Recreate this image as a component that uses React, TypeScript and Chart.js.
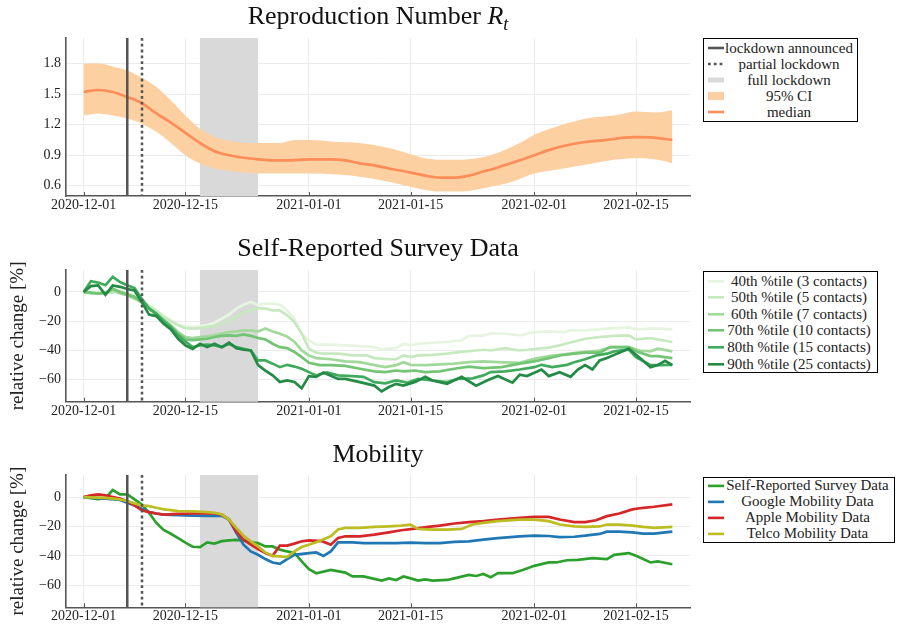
import React, { useEffect, useRef } from "react";
import { Chart, registerables } from "chart.js";

Chart.register(...registerables);

const FONT = "'Liberation Serif', 'Times New Roman', serif";

// ---------- axes ----------
const X_TICK_DAYS = [0, 14, 31, 45, 62, 76];
const X_TICK_LABELS = ["2020-12-01", "2020-12-15", "2021-01-01", "2021-01-15", "2021-02-01", "2021-02-15"];
const X_MIN = -2.43;
const X_MAX = 83.43;
const RT_TICKS = [0.6, 0.9, 1.2, 1.5, 1.8];
const PCT_TICKS = [-60, -40, -20, 0];

// ---------- events (day index, 0 = 2020-12-01) ----------
const LOCKDOWN_ANNOUNCED_DAY = 6;
const PARTIAL_LOCKDOWN_DAY = 8;
const FULL_LOCKDOWN_START = 16;
const FULL_LOCKDOWN_END = 24;

type Pt = [number, number];

// ---------- Reproduction number ----------
const RT_MEDIAN: Pt[] = [
  [0, 1.52], [2, 1.54], [4, 1.52], [6, 1.47], [8, 1.41], [10, 1.31], [12, 1.22], [14, 1.12], [16, 1.02],
  [18, 0.94], [20, 0.9], [22, 0.875], [24, 0.86], [26, 0.85], [28, 0.85], [31, 0.86], [34, 0.86], [36, 0.85],
  [38, 0.82], [40, 0.8], [42, 0.77], [45, 0.73], [47, 0.7], [49, 0.68], [51, 0.68], [53, 0.7], [55, 0.74],
  [57, 0.78], [60, 0.85], [62, 0.9], [64, 0.95], [66, 0.99], [69, 1.03], [72, 1.05], [74, 1.07], [76, 1.077],
  [78, 1.075], [81, 1.05],
];
const RT_UPPER: Pt[] = [
  [0, 1.8], [2, 1.8], [4, 1.77], [6, 1.73], [8, 1.66], [10, 1.57], [12, 1.44], [14, 1.29], [16, 1.16],
  [18, 1.08], [21, 1.03], [24, 1.02], [27, 1.02], [29, 1.05], [31, 1.05], [35, 1.03], [38, 1.02], [42, 0.97],
  [45, 0.91], [47, 0.87], [49, 0.855], [51, 0.855], [53, 0.86], [56, 0.9], [60, 1.02], [62, 1.1], [65, 1.18],
  [68, 1.24], [70, 1.27], [73, 1.29], [76, 1.33], [79, 1.32], [81, 1.34],
];
const RT_LOWER: Pt[] = [
  [0, 1.29], [2, 1.31], [4, 1.29], [6, 1.26], [8, 1.21], [10, 1.13], [12, 1.02], [14, 0.9], [16, 0.82],
  [18, 0.77], [21, 0.74], [24, 0.72], [27, 0.72], [31, 0.72], [35, 0.71], [38, 0.69], [42, 0.64], [45, 0.59],
  [47, 0.56], [49, 0.545], [51, 0.545], [53, 0.55], [56, 0.59], [59, 0.64], [62, 0.72], [66, 0.77], [70, 0.82],
  [73, 0.855], [76, 0.87], [79, 0.855], [81, 0.82],
];

// ---------- Self-reported survey percentiles (relative change %) ----------
const P40: Pt[] = [
  [0, 0], [1, 0], [2, 0], [3, 0], [4, 0], [5, 1], [6, -0.5], [7, -2.3], [8, -5.7], [9, -9.1], [10, -12.6],
  [11, -16], [12, -19.4], [13, -22.4], [14, -23.3], [15, -24], [16, -23.3], [17, -22.4], [18, -21], [19, -18.3],
  [20, -15.5], [21, -11.4], [22, -8.7], [23, -6.8], [24, -9], [25, -8], [26, -8], [27, -8.7], [28, -12.6],
  [29, -18.3], [30, -28.5], [31, -33], [32, -36], [34, -36], [36, -36.5], [38, -37], [40, -37.7], [41, -39.3],
  [43, -38.4], [44, -35.4], [45, -36.5], [46, -35.4], [48, -34.7], [50, -34.2], [52, -33], [53, -30],
  [55, -29.7], [56, -28.5], [58, -28.5], [60, -29.7], [62, -27.4], [64, -27], [66, -27.4], [67, -26.3],
  [69, -26.3], [71, -25.6], [72, -25], [75, -24.2], [76, -25.6], [78, -25], [79, -25], [81, -25.6],
];
const P50: Pt[] = [
  [0, 0], [1, -0.5], [2, -0.5], [3, -0.5], [4, -0.5], [5, 0.5], [6, -1.1], [7, -2.7], [8, -6.4], [9, -9.6],
  [10, -13], [11, -17], [12, -20], [13, -22.8], [14, -24.7], [15, -25], [16, -24.7], [17, -24], [18, -23.3],
  [19, -21.7], [20, -20], [21, -17], [22, -14.2], [23, -12.6], [24, -11], [25, -11.4], [26, -12.6], [27, -12.6],
  [28, -16], [29, -20.5], [30, -28.5], [31, -38.8], [32, -41.5], [33, -42.2], [35, -42.2], [37, -43.4],
  [39, -43.4], [40, -45.2], [42, -46], [43, -46], [44, -43.4], [45, -44.5], [46, -43.4], [48, -43], [50, -42.2],
  [52, -41], [54, -40], [55, -39.5], [56, -40], [58, -38.4], [60, -40], [62, -39], [64, -38], [65.5, -36.5],
  [67, -34.5], [69, -32], [71, -30.8], [73, -30], [75, -29.7], [76, -32.4], [78, -31.5], [79, -32.4], [81, -34.2],
];
const P60: Pt[] = [
  [0, 0], [1, -1], [2, -1], [3, -1], [4, 1.1], [5, -1], [6, -2.3], [7, -4.6], [8, -7.3], [9, -11], [10, -14.8],
  [11, -18.7], [12, -22.8], [13, -27.4], [14, -30.8], [15, -31.5], [16, -30.8], [17, -30.4], [18, -29.7],
  [19, -28.5], [20, -27.4], [21, -27], [22, -26.3], [23, -26.3], [24, -27], [25, -25], [26, -27], [27, -28.5],
  [28, -30.5], [29, -34], [30, -40], [31, -43.4], [32, -45.2], [34, -46], [36, -47.5], [38, -48], [40, -50],
  [41.5, -51.4], [43, -50], [44, -48], [45, -49.8], [47, -50], [49, -49.5], [51, -49], [53, -48], [55, -47.5],
  [57, -48], [60, -48.5], [62, -45.7], [64, -43.8], [65.5, -43], [67.5, -41.8], [69, -41], [71, -40],
  [72.5, -37.7], [75, -37.7], [76.5, -40], [78, -40.6], [79, -38.8], [81, -40.6],
];
const P70: Pt[] = [
  [0, 0], [1, -0.5], [2, -1.1], [3, -0.5], [4, 2.3], [5, 0], [6, -1.8], [7, -3.4], [8, -6.8], [9, -11.4],
  [10, -15.5], [11, -19.4], [12, -24], [13, -28.5], [14, -32.4], [15, -33], [16, -32.4], [17, -32], [18, -30.8],
  [19, -30], [20, -29.7], [21, -30], [22, -29], [23, -30], [24, -31.5], [25, -32.4], [26, -35.4], [27, -37.7],
  [28, -38.4], [29, -41], [30, -44.5], [31, -48.4], [32.5, -50], [34, -50], [36, -50.5], [38, -52.5],
  [40, -54.3], [41.5, -54.8], [43, -53.7], [44, -54.3], [45.5, -53.7], [47, -54.8], [49, -54.3], [51, -52.5],
  [53, -51], [55, -52], [57.5, -51.4], [60, -49], [62, -47.5], [64, -45.2], [65.5, -43.4], [67.5, -42.2],
  [69, -41.5], [71, -41.5], [72.5, -37.7], [75, -37.7], [76, -40.6], [78, -43.8], [79, -43.8], [81, -45.2],
];
const P80: Pt[] = [
  [0, 0], [1, 7.3], [2, 6.4], [3, 4.6], [4, 10.3], [5, 6.8], [6, 4.6], [7, 2.7], [8, -4.6], [9, -11.4],
  [10, -14.8], [11, -20], [12, -24], [13, -29.7], [14, -34], [15, -37.7], [16, -36.5], [17, -36], [18, -36.5],
  [19, -37.7], [20, -35.4], [21, -37.7], [22, -38.8], [23, -40], [24, -46.8], [25, -46.8], [26, -49],
  [27, -51.4], [28, -49.8], [29, -51], [30, -52.5], [31, -54.8], [32, -57], [33.5, -55], [35, -57], [37, -57.5],
  [38.5, -58], [40, -61.6], [41.5, -62.5], [43, -60.5], [44.5, -62], [46, -59.4], [48, -60.5], [50, -61.6],
  [51.5, -59.4], [53.5, -59], [55, -57], [56, -54.8], [58, -54.3], [60, -53], [62, -51.4], [63, -49.8],
  [64.5, -51.4], [66.5, -49.8], [67.5, -48], [69, -46], [70.5, -43.4], [72, -42.2], [73, -40.6], [75, -39.3],
  [76, -44.5], [78, -50], [79, -50], [81, -49.8],
];
const P90: Pt[] = [
  [0, 0], [1, 4], [2, 4.5], [3, -2], [4, 4.5], [5, 3.5], [6, 2], [7, 1], [8, -7], [9, -15.5], [10, -16.5],
  [11, -21.7], [12, -25.6], [13, -32], [14, -36.5], [15, -39], [16, -35.4], [17, -37.7], [18, -35.4], [19, -37.7],
  [20, -34.7], [21, -38.4], [22, -39.5], [23, -40], [24, -50], [25, -53.7], [26, -57], [27, -61.6], [28, -60.5],
  [29, -61.5], [30, -65.8], [31, -57.5], [32, -58], [33, -55], [35, -59.4], [36, -59.4], [38, -61.6], [40, -64],
  [41, -68], [42, -65], [43, -62.8], [44, -64], [45.6, -61.6], [47, -58], [48, -60.5], [50, -62.8], [52, -58],
  [54, -64], [55.5, -60.5], [57, -57.5], [59, -62], [60, -56.6], [61, -57.5], [63, -53], [64, -57.5],
  [65.5, -54.8], [67, -58], [68, -53], [69, -50], [70, -53], [71, -46.8], [72, -45.2], [73, -43], [75, -38.8],
  [76.5, -45], [78, -51.4], [79, -50], [80, -47], [81, -50],
];

// ---------- Mobility (relative change %) ----------
const SURVEY: Pt[] = [
  [0, 0], [1, -0.7], [2, -1.4], [3, -0.7], [4, 4.8], [5, 1.8], [6, 1.8], [7, -1.6], [8, -5], [9, -10.7],
  [10, -17.6], [11, -22.4], [12, -25], [13, -28], [14, -31], [15, -33.8], [16, -34], [17, -30.8], [18, -31.7],
  [19, -30], [20, -29.5], [21, -29.2], [22, -29.5], [23, -30.8], [24, -31.3], [25, -33.6], [26, -33.6],
  [27, -35.8], [28, -37], [29, -38], [30, -43.8], [31, -49], [32, -51.8], [34, -49.5], [36, -51.4], [37, -54],
  [38.5, -54], [41, -56.8], [42, -55.3], [43, -56.4], [44, -54], [45, -55.3], [46, -56.8], [47, -56], [48, -56.8],
  [50, -56.4], [51, -55.3], [53, -53], [54, -53.7], [55, -52.3], [56, -54.6], [57, -51.8], [59, -51.8],
  [60.5, -49.5], [62, -46.8], [64, -44.5], [65, -44.5], [66.5, -43], [68, -42.7], [70, -41.5], [72, -42.2],
  [73, -39.3], [75, -38.1], [76, -40], [78, -44.5], [79, -43.8], [81, -45.7],
];
const GOOGLE: Pt[] = [
  [0, 0], [3, -1.1], [5, -2], [6, -3.9], [7, -5.7], [8, -8], [9, -10.3], [10, -11.2], [11, -11.9], [13, -12.3],
  [15, -12.6], [17, -12.8], [19, -12.8], [20, -15.3], [21, -24.4], [22, -32.4], [23, -37], [24, -39.3],
  [25, -42.2], [26, -44.5], [27, -45.4], [28, -42.2], [29, -39.3], [31, -38.1], [32, -37.7], [33, -40], [34, -37],
  [35, -30.8], [37, -30.8], [38.5, -31.3], [41, -31.3], [43, -31.3], [45, -31], [47, -31.3], [49, -31.3],
  [51, -30.5], [53, -30.1], [55, -29], [57, -27.9], [60, -26.7], [62, -26.3], [64, -26.5], [65.5, -27.2],
  [67.5, -27], [69, -26.3], [71, -25.1], [72, -23.5], [73.7, -23.5], [75.5, -24], [77, -24.9], [78.5, -24.9],
  [81, -23.5],
];
const APPLE: Pt[] = [
  [0, 0], [1, 1.1], [2, 1.8], [3, 1.1], [4, 0], [5, -1.1], [6, -2.7], [7, -5.7], [8, -8.9], [9, -10.3],
  [10, -11.2], [11, -11.9], [13, -11.5], [15, -11.2], [18, -11.2], [19, -11.9], [20, -15.3], [21, -23.3],
  [22, -29], [23, -32.4], [24, -35.4], [25, -38.1], [26, -40], [27, -33], [28, -33], [29, -31.7], [30, -30.1],
  [31, -29.5], [32.8, -30], [34, -32.4], [35, -27.9], [36, -26.7], [38, -26.7], [40, -25.6], [42, -24],
  [43.7, -22.6], [45.6, -21.5], [47.4, -20.3], [49, -19.4], [51, -18], [53, -17.1], [55, -16.4], [57, -15.3],
  [60, -14.2], [62, -13.5], [64, -13.5], [65.5, -15.3], [67.5, -17.1], [69, -17.1], [70.5, -15.8], [72, -13],
  [73.7, -11.2], [75.5, -8.4], [77, -7.3], [78.5, -6.6], [81, -5],
];
const TELCO: Pt[] = [
  [0, 0], [3, -0.5], [5, -1.6], [6, -2.7], [7, -4.3], [8, -5.7], [9, -6.2], [10, -7.3], [11, -8.4], [12, -8.9],
  [13, -9.6], [15, -9.8], [17, -10.3], [18, -10.7], [19, -11.9], [20, -15.3], [21, -21], [22, -26.3],
  [23, -30.1], [24, -33.6], [25, -37.7], [26, -40], [27, -40.4], [28, -40.9], [29, -37], [30, -34], [32, -30.8],
  [34, -26.7], [35, -22.1], [36, -21], [38, -21], [40, -20.3], [42, -19.9], [43.7, -19.4], [45, -18.7],
  [46, -21.7], [48, -22.1], [50, -22.1], [52, -21.7], [53.5, -18.7], [55, -17.6], [57, -16.4], [60, -15.3],
  [62, -15.3], [64, -16.4], [65.5, -18.7], [67.5, -19.9], [69, -20.3], [71, -20], [72, -18.7], [73.7, -18.7],
  [75.5, -19.4], [77, -20.3], [78.5, -21], [81, -20.3],
];

const SURVEY_LABELS = [
  "40th %tile (3 contacts)",
  "50th %tile (5 contacts)",
  "60th %tile (7 contacts)",
  "70th %tile (10 contacts)",
  "80th %tile (15 contacts)",
  "90th %tile (25 contacts)",
];
const SURVEY_SERIES = [P40, P50, P60, P70, P80, P90];
const GREENS = ["#e5f5e0", "#c7e9c0", "#a1d99b", "#74c476", "#41ab5d", "#238b45"];

const MOBILITY_LABELS = ["Self-Reported Survey Data", "Google Mobility Data", "Apple Mobility Data", "Telco Mobility Data"];
const MOBILITY_SERIES = [SURVEY, GOOGLE, APPLE, TELCO];
const MOBILITY_COLORS = ["#2ca02c", "#1f77b4", "#d62728", "#bcbd22"];

const RT_CI_COLOR = "#fdd0a2";
const RT_MEDIAN_COLOR = "#fc8d59";
const SPAN_COLOR = "#d9d9d9";
const VLINE_COLOR = "#555555";
const GRID_COLOR = "#ebebeb";
const AXIS_COLOR = "#555555";
const TEXT_COLOR = "#222222";

const toXY = (pts: Pt[]) => pts.map(([x, y]) => ({ x, y }));
const minus = (v: number) => (v < 0 ? "\u2212" + Math.abs(v) : String(v));

const markerPlugin = {
  id: "markers",
  beforeDatasetsDraw(chart: any) {
    const { ctx, chartArea, scales } = chart;
    const x = scales.x;
    const x0 = x.getPixelForValue(FULL_LOCKDOWN_START);
    const x1 = x.getPixelForValue(FULL_LOCKDOWN_END);
    ctx.save();
    ctx.fillStyle = SPAN_COLOR;
    ctx.fillRect(x0, chartArea.top, x1 - x0, chartArea.bottom - chartArea.top);
    ctx.restore();
  },
  afterDatasetsDraw(chart: any) {
    const { ctx, chartArea, scales } = chart;
    const x = scales.x;
    ctx.save();
    ctx.strokeStyle = VLINE_COLOR;
    ctx.lineWidth = 2.5;
    const xa = x.getPixelForValue(LOCKDOWN_ANNOUNCED_DAY);
    ctx.beginPath();
    ctx.moveTo(xa, chartArea.top);
    ctx.lineTo(xa, chartArea.bottom);
    ctx.stroke();
    ctx.lineWidth = 2.5;
    ctx.setLineDash([2.8, 3]);
    const xp = Math.round(x.getPixelForValue(PARTIAL_LOCKDOWN_DAY));
    ctx.beginPath();
    ctx.moveTo(xp, chartArea.top);
    ctx.lineTo(xp, chartArea.bottom);
    ctx.stroke();
    ctx.restore();
  },
  afterDraw(chart: any) {
    const { ctx, chartArea, scales } = chart;
    ctx.save();
    ctx.strokeStyle = AXIS_COLOR;
    ctx.lineWidth = 1;
    X_TICK_DAYS.forEach((d) => {
      const px = Math.round(scales.x.getPixelForValue(d)) + 0.5;
      ctx.beginPath();
      ctx.moveTo(px, chartArea.bottom);
      ctx.lineTo(px, chartArea.bottom - 4);
      ctx.stroke();
    });
    ctx.restore();
  },
};

function buildOptions(p: {
  padTop: number;
  xHeight: number;
  yMin: number;
  yMax: number;
  yTicks: number[];
  yFmt: (v: number) => string;
  yTitle?: string;
}) {
  return {
    animation: false,
    responsive: false,
    maintainAspectRatio: false,
    events: [],
    layout: { padding: { top: p.padTop, right: 207, left: 0, bottom: 0 } },
    plugins: {
      legend: { display: false },
      tooltip: { enabled: false },
      title: { display: false },
    },
    elements: { point: { radius: 0 } },
    scales: {
      x: {
        type: "linear",
        min: X_MIN,
        max: X_MAX,
        afterBuildTicks: (s: any) => {
          s.ticks = X_TICK_DAYS.map((v) => ({ value: v }));
        },
        afterFit: (s: any) => {
          s.height = p.xHeight;
        },
        grid: { color: GRID_COLOR, lineWidth: 1, drawTicks: false },
        border: { color: AXIS_COLOR, width: 1.6 },
        ticks: {
          font: { family: FONT, size: 14 },
          color: TEXT_COLOR,
          padding: 1,
          maxRotation: 0,
          autoSkip: false,
          callback: (_v: any, i: number) => X_TICK_LABELS[i],
        },
      },
      y: {
        type: "linear",
        min: p.yMin,
        max: p.yMax,
        afterBuildTicks: (s: any) => {
          s.ticks = p.yTicks.map((v) => ({ value: v }));
        },
        afterFit: (s: any) => {
          s.width = 66;
        },
        grid: { color: GRID_COLOR, lineWidth: 1, drawTicks: false },
        border: { color: AXIS_COLOR, width: 1.6 },
        ticks: {
          font: { family: FONT, size: 14 },
          color: TEXT_COLOR,
          padding: 5,
          callback: (v: number) => p.yFmt(v),
        },
        title: p.yTitle
          ? {
              display: true,
              text: p.yTitle,
              font: { family: FONT, size: 19 },
              color: TEXT_COLOR,
              padding: { top: 7, bottom: 0 },
            }
          : { display: false },
      },
    },
  };
}

function useChart(ref: React.RefObject<HTMLCanvasElement>, make: () => any) {
  useEffect(() => {
    if (!ref.current) return;
    const chart = new Chart(ref.current, make());
    return () => chart.destroy();
  }, []);
}

type LegendItem = { label: string; kind: "line" | "dotted" | "rect"; color: string; h?: number };

function Legend(props: { top: number; width: number; height: number; rowH: number; padTop: number; items: LegendItem[] }) {
  const { top, width, height, rowH, padTop, items } = props;
  return (
    <div
      style={{
        position: "absolute",
        left: 703,
        top,
        width,
        height,
        boxSizing: "border-box",
        border: "1px solid #000",
        background: "#fff",
        paddingTop: padTop,
      }}
    >
      {items.map((it) => (
        <div key={it.label} style={{ display: "flex", alignItems: "center", height: rowH }}>
          <svg width={16} height={rowH} style={{ marginLeft: 4, flex: "none", display: "block" }}>
            {it.kind === "rect" ? (
              <rect x={0} y={(rowH - (it.h || 6)) / 2} width={16} height={it.h || 6} fill={it.color} />
            ) : (
              <line
                x1={0}
                x2={16}
                y1={rowH / 2}
                y2={rowH / 2}
                stroke={it.color}
                strokeWidth={2.6}
                strokeDasharray={it.kind === "dotted" ? "2.8 3" : undefined}
              />
            )}
          </svg>
          <div
            style={{
              flex: 1,
              textAlign: "center",
              fontFamily: FONT,
              fontSize: 15,
              lineHeight: rowH + "px",
              whiteSpace: "nowrap",
              color: TEXT_COLOR,
              marginRight: 3,
            }}
          >
            {it.label}
          </div>
        </div>
      ))}
    </div>
  );
}

const titleStyle = (top: number): React.CSSProperties => ({
  position: "absolute",
  left: 66,
  width: 624,
  top,
  textAlign: "center",
  fontFamily: FONT,
  fontSize: 26,
  lineHeight: "26px",
  color: "#111",
  whiteSpace: "nowrap",
});

export default function App() {
  const c1 = useRef<HTMLCanvasElement>(null);
  const c2 = useRef<HTMLCanvasElement>(null);
  const c3 = useRef<HTMLCanvasElement>(null);

  useChart(c1, () => ({
    type: "line",
    data: {
      datasets: [
        { label: "lower", data: toXY(RT_LOWER), borderWidth: 0, pointRadius: 0, fill: false, cubicInterpolationMode: "monotone", order: 2 },
        {
          label: "95% CI",
          data: toXY(RT_UPPER),
          borderWidth: 0,
          pointRadius: 0,
          fill: "-1",
          backgroundColor: RT_CI_COLOR,
          cubicInterpolationMode: "monotone",
          order: 1,
        },
        {
          label: "median",
          data: toXY(RT_MEDIAN),
          borderColor: RT_MEDIAN_COLOR,
          borderWidth: 2.7,
          pointRadius: 0,
          fill: false,
          cubicInterpolationMode: "monotone",
          order: 0,
        },
      ],
    },
    options: buildOptions({ padTop: 38, xHeight: 19, yMin: 0.5, yMax: 2.05, yTicks: RT_TICKS, yFmt: (v) => v.toFixed(1) }),
    plugins: [markerPlugin],
  }));

  useChart(c2, () => ({
    type: "line",
    data: {
      datasets: SURVEY_SERIES.map((s, i) => ({
        label: SURVEY_LABELS[i],
        data: toXY(s),
        borderColor: GREENS[i],
        borderWidth: 2.7,
        pointRadius: 0,
        fill: false,
        tension: 0,
        order: SURVEY_SERIES.length - i,
      })),
    },
    options: buildOptions({
      padTop: 55,
      xHeight: 18.3,
      yMin: -75,
      yMax: 15,
      yTicks: PCT_TICKS,
      yFmt: minus,
      yTitle: "relative change [%]",
    }),
    plugins: [markerPlugin],
  }));

  useChart(c3, () => ({
    type: "line",
    data: {
      datasets: MOBILITY_SERIES.map((s, i) => ({
        label: MOBILITY_LABELS[i],
        data: toXY(s),
        borderColor: MOBILITY_COLORS[i],
        borderWidth: 2.7,
        pointRadius: 0,
        fill: false,
        tension: 0,
        order: MOBILITY_SERIES.length - i,
      })),
    },
    options: buildOptions({
      padTop: 55,
      xHeight: 16.7,
      yMin: -75,
      yMax: 15,
      yTicks: PCT_TICKS,
      yFmt: minus,
      yTitle: "relative change [%]",
    }),
    plugins: [markerPlugin],
  }));

  return (
    <div style={{ position: "absolute", left: 0, top: 0, width: 897, height: 624, background: "#fff", overflow: "hidden" }}>
      <canvas ref={c1} width={897} height={215} style={{ position: "absolute", left: 0, top: 0, display: "block" }} />
      <canvas ref={c2} width={897} height={205} style={{ position: "absolute", left: 0, top: 215, display: "block" }} />
      <canvas ref={c3} width={897} height={204} style={{ position: "absolute", left: 0, top: 420, display: "block" }} />

      <div style={titleStyle(3)}>
        Reproduction Number <i>R</i>
        <i style={{ fontSize: 18, position: "relative", top: 6 }}>t</i>
      </div>
      <div style={titleStyle(235)}>Self-Reported Survey Data</div>
      <div style={titleStyle(441)}>Mobility</div>

      <Legend
        top={38}
        width={155}
        height={84}
        rowH={16}
        padTop={1.3}
        items={[
          { label: "lockdown announced", kind: "line", color: VLINE_COLOR },
          { label: "partial lockdown", kind: "dotted", color: VLINE_COLOR },
          { label: "full lockdown", kind: "rect", color: SPAN_COLOR, h: 5 },
          { label: "95% CI", kind: "rect", color: RT_CI_COLOR, h: 8 },
          { label: "median", kind: "line", color: RT_MEDIAN_COLOR },
        ]}
      />
      <Legend
        top={270.7}
        width={175}
        height={102.6}
        rowH={16.6}
        padTop={1}
        items={SURVEY_LABELS.map((l, i) => ({ label: l, kind: "line" as const, color: GREENS[i] }))}
      />
      <Legend
        top={476.7}
        width={192}
        height={66.6}
        rowH={15.8}
        padTop={0.5}
        items={MOBILITY_LABELS.map((l, i) => ({ label: l, kind: "line" as const, color: MOBILITY_COLORS[i] }))}
      />
    </div>
  );
}
